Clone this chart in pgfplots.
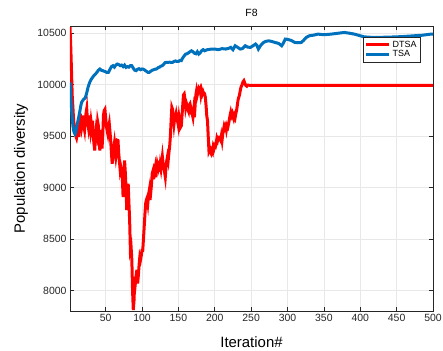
\documentclass[border=0pt]{standalone}
\usepackage{fontspec}
\setmainfont{Liberation Sans}
\usepackage{pgfplots}
\pgfplotsset{compat=1.18}
\definecolor{mred}{rgb}{1,0,0}
\definecolor{mblue}{rgb}{0,0.447,0.741}
\definecolor{axgray}{gray}{0.15}
\begin{document}
\begin{tikzpicture}
\begin{axis}[
  at={(0,0)}, anchor=south west,
  width=363bp, height=285bp, scale only axis,
  xmin=1, xmax=500, ymin=7800, ymax=10570,
  xtick={50,100,...,500},
  ytick={8000,8500,...,10500},
  scaled y ticks=false, scaled x ticks=false,
  /pgf/number format/assume math mode=true,
  /pgf/number format/set thousands separator={},
  tick label style={font=\fontsize{10.5}{12}\selectfont, text=axgray},
  tick align=inside, major tick length=4bp,
  axis line style={axgray, line width=0.6bp},
  every tick/.style={axgray, line width=0.6bp},
  grid=major, major grid style={gray!18, line width=0.6bp},
  title={F8},
  title style={font=\fontsize{10.5}{12}\selectfont, at={(axis description cs:0.5,1)}, anchor=south, yshift=0bp},
  xlabel={Iteration\#},
  ylabel={Population diversity},
  xlabel style={font=\fontsize{15}{18}\selectfont, at={(axis description cs:0.5,-0.109)}, anchor=center},
  ylabel style={font=\fontsize{15}{18}\selectfont, at={(axis description cs:-0.135,0.5)}, anchor=center, rotate=0},
  legend style={at={(axis description cs:0.965,0.961)}, anchor=north east,
    font=\fontsize{9}{10}\selectfont, draw=axgray, line width=0.6bp, inner sep=1.5bp, row sep=-2bp},
  legend cell align=left,
  legend image code/.code={\draw[#1, line width=3bp] (0cm,0cm) -- (0.8cm,0cm);},
]
\addplot[mred, line width=3bp] coordinates {
(1,10560)(2,10380)(3,10150)(4,9900)(5,9780)(6,9650)(7,9600)(8,9550)(9,9500)(10,9480)
(11,9520)(12,9560)(13,9490)(14,9600)(15,9720)(16,9640)(17,9580)(18,9620)(19,9700)(20,9600)
(21,9560)(22,9660)(23,9720)(24,9764)(25,9650)(26,9600)(27,9700)(28,9620)(29,9560)(30,9640)
(31,9587)(32,9650)(33,9500)(34,9420)(35,9360)(36,9480)(37,9560)(38,9520)(39,9640)(40,9600)
(41,9480)(42,9360)(43,9420)(44,9560)(45,9380)(46,9500)(47,9700)(48,9748)(49,9760)(50,9680)
(51,9600)(52,9554)(53,9520)(54,9580)(55,9620)(56,9540)(57,9450)(58,9330)(59,9232)(60,9296)
(61,9380)(62,9430)(63,9350)(64,9296)(65,9350)(66,9460)(67,9457)(68,9330)(69,9250)(70,9167)
(71,9200)(72,9167)(73,9080)(74,8908)(75,9100)(76,9264)(77,9150)(78,9000)(79,8780)(80,8900)
(81,9038)(82,8850)(83,8682)(84,8392)(85,8420)(86,8300)(87,8000)(88,7810)(89,7900)(90,8133)
(91,8080)(92,8150)(93,8200)(94,8068)(95,8150)(96,8250)(97,8326)(98,8300)(99,8340)(100,8390)
(101,8390)(102,8500)(103,8620)(104,8740)(105,8844)(106,8880)(107,8900)(108,8850)(109,8930)(110,8973)
(111,8880)(112,8950)(113,9030)(114,9135)(115,9160)(116,9080)(117,9150)(118,9190)(119,9100)(120,9167)
(121,9230)(122,9200)(123,9260)(124,9150)(125,9220)(126,9180)(127,9240)(128,9300)(129,9232)(130,9200)
(131,9150)(132,9103)(133,9200)(134,9260)(135,9300)(136,9264)(137,9340)(138,9400)(139,9500)(140,9650)
(141,9780)(142,9760)(143,9700)(144,9620)(145,9680)(146,9683)(147,9720)(148,9680)(149,9640)(150,9600)
(151,9683)(152,9640)(153,9587)(154,9600)(155,9700)(156,9800)(157,9900)(158,9910)(159,9860)(160,9780)
(161,9820)(162,9797)(163,9760)(164,9740)(165,9800)(166,9813)(167,9780)(168,9720)(169,9716)(170,9683)
(171,9750)(172,9683)(173,9800)(174,9900)(175,9942)(176,9900)(177,9930)(178,9958)(179,9940)(180,9958)
(181,9900)(182,9940)(183,9910)(184,9930)(185,9910)(186,9910)(187,9880)(188,9800)(189,9700)(190,9651)
(191,9500)(192,9360)(193,9380)(194,9344)(195,9330)(196,9360)(197,9344)(198,9400)(199,9380)(200,9409)
(201,9400)(202,9430)(203,9480)(204,9460)(205,9490)(206,9490)(207,9470)(208,9457)(209,9500)(210,9457)
(211,9520)(212,9560)(213,9600)(214,9580)(215,9600)(216,9560)(217,9600)(218,9587)(219,9620)(220,9660)
(221,9700)(222,9732)(223,9700)(224,9720)(225,9690)(226,9668)(227,9700)(228,9680)(229,9720)(230,9750)
(231,9800)(232,9850)(233,9877)(234,9900)(235,9940)(236,9974)(237,9990)(238,10010)(239,10030)(240,10039)
(241,10020)(242,10000)(243,9990)(244,9985)(245,9995)(250,9993)(300,9993)(400,9993)(500,9993)
};
\addlegendentry{DTSA}
\addplot[mblue, line width=3bp] coordinates {
(1,10022)(2,9900)(3,9780)(4,9680)(5,9600)(6,9554)(7,9530)(8,9520)(9,9540)(10,9580)
(11,9620)(12,9650)(13,9683)(14,9720)(15,9760)(16,9800)(17,9828)(18,9840)(19,9850)(20,9860)
(22,9870)(24,9920)(26,9980)(28,10020)(30,10050)(32,10070)(34,10090)(36,10103)(38,10120)(40,10140)
(42,10152)(44,10140)(46,10136)(48,10130)(50,10125)(52,10118)(54,10120)(56,10150)(58,10175)(60,10184)
(62,10170)(64,10190)(66,10200)(68,10195)(70,10185)(72,10190)(74,10175)(76,10190)(78,10168)(80,10175)
(82,10170)(84,10185)(86,10184)(88,10160)(90,10140)(92,10136)(94,10150)(96,10155)(98,10145)(100,10152)
(102,10150)(104,10140)(106,10130)(108,10120)(110,10120)(112,10130)(114,10140)(116,10145)(118,10150)(120,10152)
(122,10165)(124,10170)(126,10180)(128,10184)(130,10200)(132,10215)(134,10217)(136,10217)(138,10218)(140,10217)
(142,10217)(144,10225)(146,10230)(148,10225)(150,10225)(152,10235)(154,10233)(156,10260)(158,10280)(160,10297)
(162,10300)(164,10310)(166,10320)(168,10329)(170,10320)(172,10305)(174,10300)(176,10320)(178,10297)(180,10310)
(182,10330)(184,10340)(186,10329)(188,10335)(190,10340)(195,10345)(200,10346)(205,10340)(210,10350)(215,10346)
(220,10355)(222,10362)(225,10340)(228,10378)(232,10360)(235,10346)(238,10350)(242,10378)(245,10365)(249,10362)
(252,10375)(256,10394)(258,10380)(260,10346)(263,10380)(267,10410)(270,10420)(274,10426)(278,10420)(283,10410)
(288,10400)(292,10378)(294,10400)(297,10443)(300,10440)(305,10430)(310,10410)(315,10408)(319,10410)(322,10430)
(326,10460)(330,10475)(335,10480)(342,10491)(350,10485)(360,10491)(370,10500)(378,10507)(385,10500)(392,10491)
(400,10475)(405,10465)(410,10462)(420,10458)(428,10460)(440,10462)(451,10465)(460,10468)(474,10475)(485,10480)
(497,10491)(500,10490)
};
\addlegendentry{TSA}
\end{axis}
\pgfresetboundingbox
\path[use as bounding box] (-70bp,-40bp) rectangle (373bp,311bp);
\end{tikzpicture}
\end{document}
